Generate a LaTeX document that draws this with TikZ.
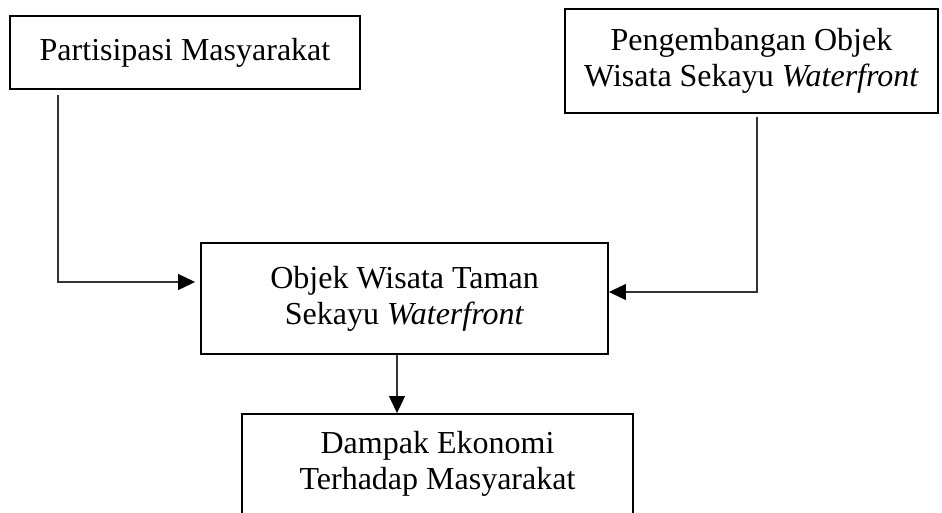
\documentclass[tikz,border=0pt]{standalone}
\usepackage{fontspec}
\setmainfont{Liberation Serif}
\usetikzlibrary{arrows.meta}
\begin{document}
\begin{tikzpicture}[x=1pt,y=-1pt,
  box/.style={draw=black,line width=1.9pt,rectangle,inner sep=0pt,align=center,
    font=\fontsize{32}{36}\selectfont},
  conn/.style={draw=black!80,line width=1.1pt},
  arr/.style={conn,-{Triangle[length=17pt,width=16pt,color=black]}}]
\useasboundingbox (0,0) rectangle (942,512);
\clip (0,0) rectangle (942,512);
\node[box,minimum width=350pt,minimum height=73pt] (b1) at (185,52.5) {Partisipasi Masyarakat};
\node[box,minimum width=373pt,minimum height=104pt] (b2) at (751.5,61) {Pengembangan Objek\\Wisata Sekayu \textit{Waterfront}};
\node[box,minimum width=407pt,minimum height=111pt] (b3) at (404.5,298.5) {Objek Wisata Taman\\Sekayu \textit{Waterfront}};
\node[box,minimum width=391pt,minimum height=100pt] (b4) at (437.5,464) {Dampak Ekonomi\\Terhadap Masyarakat};
\coordinate (c1) at (58,95);
\coordinate (c2) at (757,117);
\draw[arr,shorten >=5pt] (c1) |- ([yshift=16.5pt]b3.west);
\draw[arr] (c2) |- ([yshift=6.5pt]b3.east);
\draw[arr] ([xshift=-7.5pt]b3.south) -- ([xshift=-7.5pt]b3.south |- b4.north);
\end{tikzpicture}
\end{document}
